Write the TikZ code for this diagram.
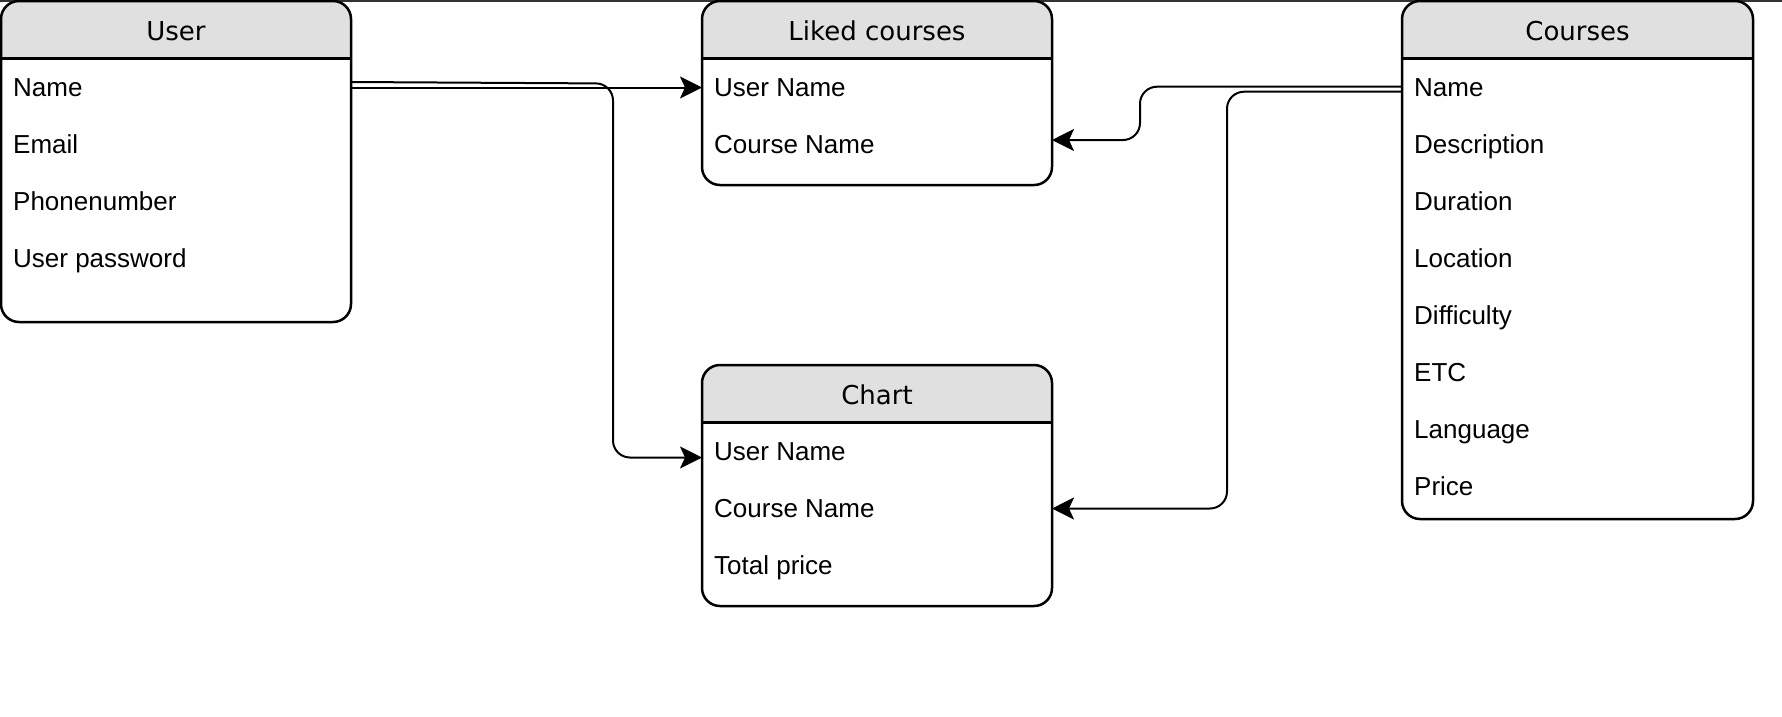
\documentclass[tikz,border=0pt]{standalone}
\usepackage{fontspec}
\setmainfont{Liberation Sans}
\newfontfamily\titlefont{DejaVu Sans}
\usetikzlibrary{arrows.meta,calc}
\definecolor{hdrgray}{HTML}{E0E0E0}
\begin{document}
\begin{tikzpicture}[x=1pt,y=-1pt,
  tbl/.style={draw, line width=2.5pt, rounded corners=18pt, fill=white, inner sep=0pt, outer sep=0pt, anchor=north west,
    path picture={
      \fill[hdrgray, sharp corners] (path picture bounding box.north west) rectangle ([yshift=-57.5pt]path picture bounding box.north east);
      \draw[line width=2.5pt, sharp corners] ([yshift=-57.5pt]path picture bounding box.north west) -- ([yshift=-57.5pt]path picture bounding box.north east);
    }},
  ttl/.style={font=\titlefont\fontsize{26}{30}\selectfont, inner sep=0pt, text height=24pt, text depth=5pt},
  rowtxt/.style={font=\fontsize{26}{30}\selectfont, anchor=west, inner xsep=12pt, inner ysep=0pt, text height=23.6pt, text depth=5pt},
  conn/.style={line width=2pt, rounded corners=17pt},
  arr/.style={-{Stealth[length=22pt, width=22pt, inset=5pt]}}
]
\useasboundingbox (0,0) rectangle (1782,716);
\draw[line width=1.5pt, black!80] (0,0.75) -- (1782,0.75);

% tables
\node[tbl, minimum width=350pt, minimum height=321pt] (user) at (1,1) {};
\node[tbl, minimum width=350pt, minimum height=184pt] (liked) at (702,1) {};
\node[tbl, minimum width=351pt, minimum height=518pt] (courses) at (1402,1) {};
\node[tbl, minimum width=350pt, minimum height=241pt] (chart) at (702,365) {};

% titles
\node[ttl] (user-t) at ($(user.north)+(0,29.5)$) {User};
\node[ttl] (liked-t) at ($(liked.north)+(0,29.5)$) {Liked courses};
\node[ttl] (courses-t) at ($(courses.north)+(0,29.5)$) {Courses};
\node[ttl] (chart-t) at ($(chart.north)+(0,29.5)$) {Chart};

% rows
\node[rowtxt] (user-r1) at ($(user.north west)+(0,86.5)$) {Name};
\node[rowtxt] (user-r2) at ($(user.north west)+(0,143.5)$) {Email};
\node[rowtxt] (user-r3) at ($(user.north west)+(0,200.5)$) {Phonenumber};
\node[rowtxt] (user-r4) at ($(user.north west)+(0,257.5)$) {User password};

\node[rowtxt] (liked-r1) at ($(liked.north west)+(0,86.5)$) {User Name};
\node[rowtxt] (liked-r2) at ($(liked.north west)+(0,143.5)$) {Course Name};

\node[rowtxt] (chart-r1) at ($(chart.north west)+(0,86.5)$) {User Name};
\node[rowtxt] (chart-r2) at ($(chart.north west)+(0,143.5)$) {Course Name};
\node[rowtxt] (chart-r3) at ($(chart.north west)+(0,200.5)$) {Total price};

\node[rowtxt] (courses-r1) at ($(courses.north west)+(0,86.5)$) {Name};
\node[rowtxt] (courses-r2) at ($(courses.north west)+(0,143.5)$) {Description};
\node[rowtxt] (courses-r3) at ($(courses.north west)+(0,200.5)$) {Duration};
\node[rowtxt] (courses-r4) at ($(courses.north west)+(0,257.5)$) {Location};
\node[rowtxt] (courses-r5) at ($(courses.north west)+(0,314.5)$) {Difficulty};
\node[rowtxt] (courses-r6) at ($(courses.north west)+(0,371.5)$) {ETC};
\node[rowtxt] (courses-r7) at ($(courses.north west)+(0,428.5)$) {Language};
\node[rowtxt] (courses-r8) at ($(courses.north west)+(0,485.5)$) {Price};

% bus coordinates
\coordinate (busL) at (613,0);
\coordinate (busR1) at (1140,0);
\coordinate (busR2) at (1227,0);

% connectors
\draw[conn, arr] (user.east |- user-r1) -- (liked.west |- liked-r1);
\draw[conn, arr] ($(user.east |- user-r1)+(0,-5.5)$) -- ($(busL |- user-r1)+(0,-4)$) -- ($(busL |- chart-r1)+(0,6)$) -- ($(chart.west |- chart-r1)+(0,6)$);
\draw[conn, arr] ($(courses.west |- courses-r1)+(0,-0.8)$) -- ($(busR1 |- courses-r1)+(0,-0.8)$) -- ($(busR1 |- liked-r2)+(0,-4.5)$) -- ($(liked.east |- liked-r2)+(0,-4.5)$);
\draw[conn, arr] ($(courses.west |- courses-r1)+(0,4.2)$) -- ($(busR2 |- courses-r1)+(0,4.2)$) -- (busR2 |- chart-r2) -- (chart.east |- chart-r2);
\end{tikzpicture}
\end{document}
